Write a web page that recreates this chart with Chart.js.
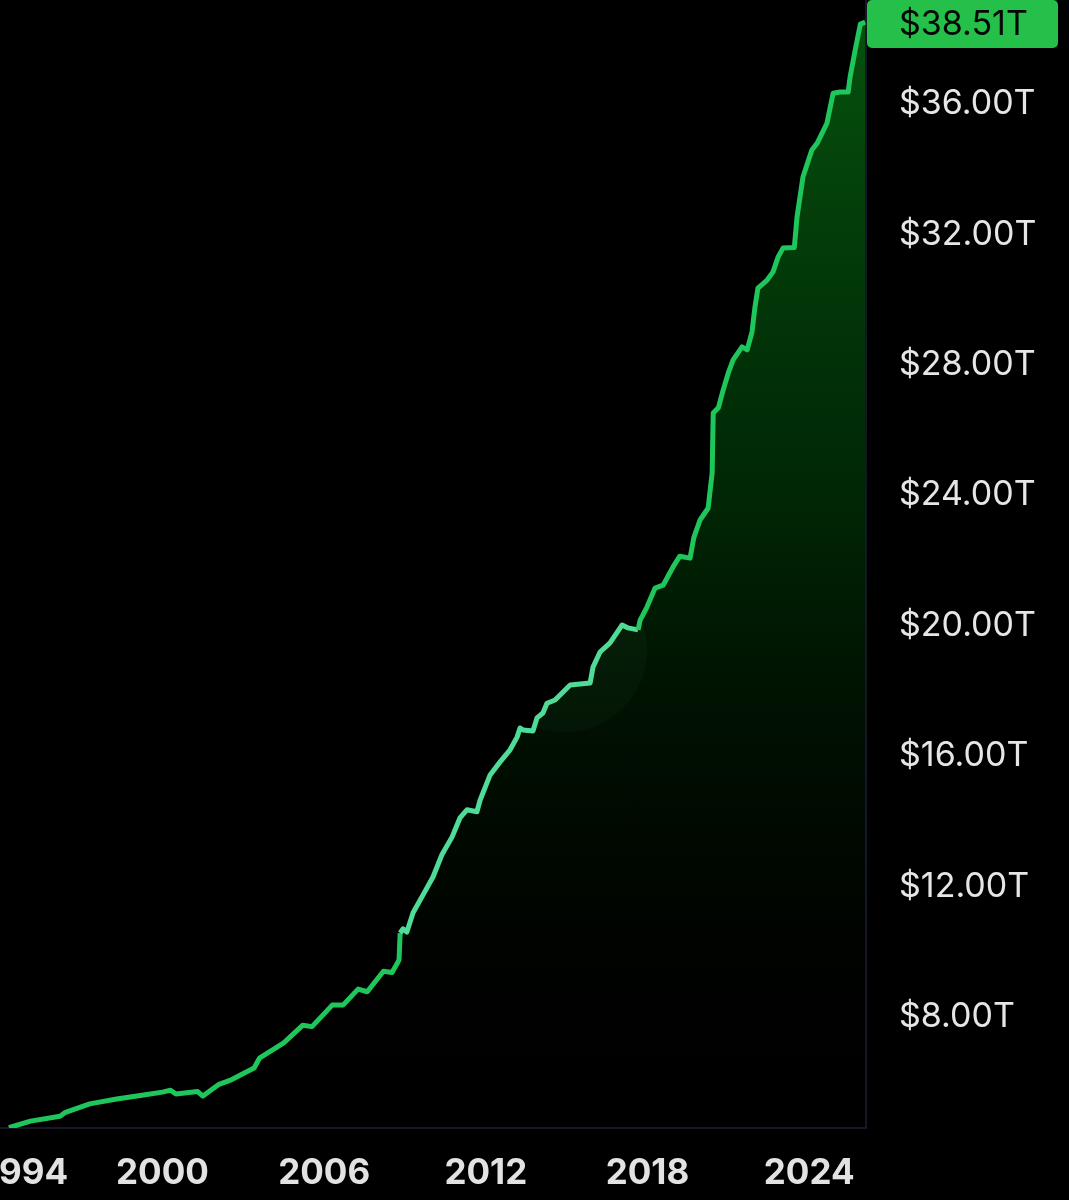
<!DOCTYPE html>
<html>
<head>
<meta charset="utf-8">
<script src="https://cdn.jsdelivr.net/npm/chart.js@4.4.1/dist/chart.umd.min.js"></script>
<style>
  html, body { margin: 0; padding: 0; background: #000; }
  #wrap { position: relative; width: 1069px; height: 1200px; }
</style>
</head>
<body>
<div id="wrap"><canvas id="debt"></canvas></div>
<script>
// US federal debt, trillions of dollars
const years = [
  1994.3, 1995.1, 1996.2, 1996.4, 1997.3, 1998.3, 1999.3, 2000.0, 2000.3, 2000.5,
  2001.3, 2001.5, 2002.1, 2002.5, 2003.4, 2003.6, 2004.5, 2005.2, 2005.55, 2006.3,
  2006.7, 2007.26, 2007.6, 2008.2, 2008.52, 2008.74, 2008.78, 2008.82, 2008.93, 2009.07,
  2009.3, 2009.67, 2010.04, 2010.37, 2010.75, 2011.04, 2011.3, 2011.67, 2011.79, 2012.16,
  2012.53, 2012.9, 2013.16, 2013.27, 2013.38, 2013.75, 2013.9, 2014.12, 2014.27, 2014.57,
  2015.13, 2015.87, 2015.98, 2016.24, 2016.61, 2017.06, 2017.28, 2017.65, 2017.73, 2017.98,
  2018.28, 2018.58, 2018.95, 2019.2, 2019.58, 2019.72, 2019.95, 2020.25, 2020.4, 2020.44,
  2020.63, 2020.81, 2021.0, 2021.18, 2021.51, 2021.7, 2021.88, 2021.99, 2022.1, 2022.44,
  2022.66, 2022.85, 2023.03, 2023.45, 2023.55, 2023.77, 2024.1, 2024.3, 2024.66, 2024.89,
  2025.15, 2025.45, 2025.52, 2025.71, 2025.9, 2026.08
];
const debt = [
  4.60, 4.80, 4.95, 5.07, 5.33, 5.48, 5.60, 5.69, 5.75, 5.63,
  5.71, 5.57, 5.93, 6.05, 6.43, 6.73, 7.20, 7.74, 7.70, 8.36,
  8.36, 8.85, 8.77, 9.40, 9.36, 9.68, 9.75, 10.57, 10.70, 10.60,
  11.19, 11.74, 12.29, 12.97, 13.52, 14.10, 14.35, 14.29, 14.65, 15.42,
  15.82, 16.19, 16.58, 16.86, 16.80, 16.77, 17.17, 17.32, 17.62, 17.72,
  18.18, 18.24, 18.73, 19.19, 19.47, 20.02, 19.93, 19.87, 20.17, 20.57,
  21.15, 21.24, 21.80, 22.13, 22.07, 22.70, 23.24, 23.60, 24.68, 26.52,
  26.68, 27.23, 27.75, 28.15, 28.55, 28.46, 29.01, 29.78, 30.35, 30.60,
  30.85, 31.31, 31.58, 31.60, 32.53, 33.76, 34.59, 34.80, 35.41, 36.33,
  36.37, 36.37, 36.83, 37.66, 38.45, 38.51
];
const yearTicks = [1994, 2000, 2006, 2012, 2018, 2024];
const valueTicks = [8, 12, 16, 20, 24, 28, 32, 36];
const latestLabel = '$38.51T';
// stretch of the line drawn in the lighter mint tone
const mintFrom = 2008.8, mintTo = 2017.7;

const fmtT = v => '$' + v.toFixed(2) + 'T';

// faint highlight disc; source-atop so it only tints the fill and the line
const hoverDisc = {
  id: 'hoverDisc',
  afterDatasetsDraw(chart) {
    const { ctx, scales: { x, y } } = chart;
    ctx.save();
    ctx.globalCompositeOperation = 'source-atop';
    ctx.fillStyle = 'rgba(110,220,140,0.10)';
    ctx.beginPath();
    ctx.arc(x.getPixelForValue(2014.94), y.getPixelForValue(19.25), 82, 0, Math.PI * 2);
    ctx.fill();
    ctx.restore();
  }
};

// year labels under the plot + the green badge with the latest value
const extraLabels = {
  id: 'extraLabels',
  afterDraw(chart) {
    const { ctx, chartArea, scales: { x, y } } = chart;
    ctx.save();
    ctx.font = '700 35px Inter';
    ctx.fillStyle = '#e2e2e2';
    ctx.textAlign = 'center';
    ctx.textBaseline = 'middle';
    yearTicks.forEach(yr => {
      const txt = String(yr);
      const w = ctx.measureText(txt).width;
      let px = x.getPixelForValue(yr);
      if (px - w / 2 < -16) px = w / 2 - 16; // first label gets nudged in
      ctx.fillText(txt, px, chartArea.bottom + 45);
    });

    const last = debt[debt.length - 1];
    const cy = Math.max(y.getPixelForValue(last), 24);
    ctx.fillStyle = '#24c04a';
    ctx.beginPath();
    ctx.roundRect(chartArea.right + 1, cy - 24, 191, 48, 5);
    ctx.fill();
    ctx.fillStyle = '#050505';
    ctx.font = '400 34px Inter';
    ctx.textAlign = 'left';
    ctx.fillText(latestLabel, chartArea.right + 33, cy + 1);
    ctx.restore();
  }
};

const ctx = document.getElementById('debt');
new Chart(ctx, {
  type: 'line',
  data: {
    datasets: [{
      data: years.map((yr, i) => ({ x: yr, y: debt[i] })),
      borderColor: '#1fc65c',
      borderWidth: 5,
      borderJoinStyle: 'round',
      pointRadius: 0,
      tension: 0,
      segment: {
        borderColor: c => (c.p0.parsed.x >= mintFrom && c.p1.parsed.x <= mintTo) ? '#4fdc98' : undefined
      },
      fill: 'start',
      backgroundColor: (context) => {
        const { chart } = context;
        const area = chart.chartArea;
        if (!area) return null;
        const g = chart.ctx.createLinearGradient(0, area.top, 0, area.bottom);
        g.addColorStop(0, 'rgba(8,105,18,0.80)');
        g.addColorStop(0.45, 'rgba(0,75,10,0.50)');
        g.addColorStop(0.8, 'rgba(0,35,0,0.15)');
        g.addColorStop(1, 'rgba(0,0,0,0)');
        return g;
      }
    }]
  },
  options: {
    responsive: true,
    maintainAspectRatio: false,
    animation: false,
    layout: { padding: 0 },
    plugins: {
      legend: { display: false },
      tooltip: { enabled: false }
    },
    scales: {
      x: {
        type: 'linear',
        min: 1993.97,
        max: 2026.11,
        grid: { display: false, drawTicks: false },
        border: { color: '#161629', width: 2 },
        ticks: { display: false },
        afterFit: s => { s.height = 72; s.paddingLeft = 0; s.paddingRight = 0; }
      },
      y: {
        position: 'right',
        min: 4.59,
        max: 39.19,
        grid: { display: false, drawTicks: false },
        border: { color: '#161629', width: 2 },
        afterBuildTicks: s => { s.ticks = valueTicks.map(v => ({ value: v })); },
        afterFit: s => { s.width = 203; s.paddingTop = 0; s.paddingBottom = 0; },
        ticks: {
          padding: 33,
          color: '#e6e6e6',
          font: { family: 'Inter', size: 34, weight: '400' },
          callback: v => fmtT(v)
        }
      }
    }
  },
  plugins: [hoverDisc, extraLabels]
});
</script>
</body>
</html>
